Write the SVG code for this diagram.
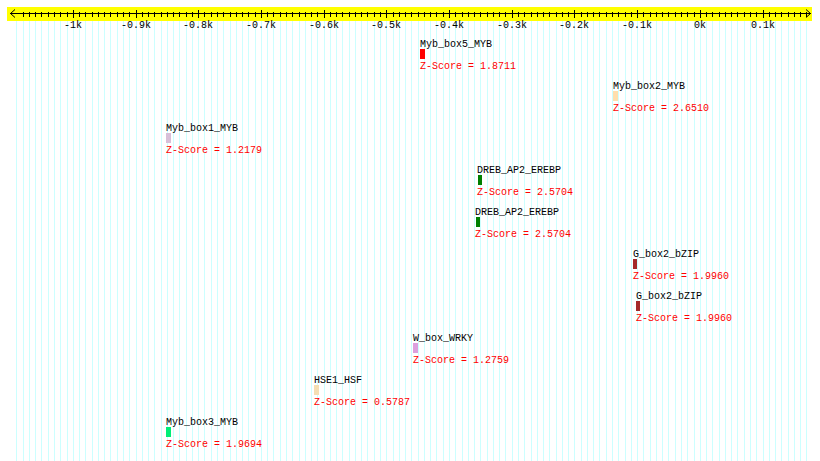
<svg xmlns="http://www.w3.org/2000/svg" width="820" height="461" viewBox="0 0 820 461">
<style>
.t{font-family:"Liberation Mono","DejaVu Sans Mono",monospace;font-size:10px;fill:#000}
.z{font-family:"Liberation Mono","DejaVu Sans Mono",monospace;font-size:10px;fill:#ff0000}
.ax{font-family:"Liberation Mono","DejaVu Sans Mono",monospace;font-size:10px;fill:#000;text-anchor:middle}
.grid{stroke:#ccffff;stroke-width:1;fill:none}
.k{stroke:#000;stroke-width:1;fill:none}
</style>
<rect x="0" y="0" width="820" height="461" fill="#ffffff"/>
<g id="grid">
<path class="grid" shape-rendering="crispEdges" d="M16.5 21V461M23.5 21V461M29.5 21V461M35.5 21V461M41.5 21V461M48.5 21V461M54.5 21V461M60.5 21V461M67.5 21V461M73.5 21V461M79.5 21V461M85.5 21V461M92.5 21V461M98.5 21V461M104.5 21V461M110.5 21V461M117.5 21V461M123.5 21V461M129.5 21V461M136.5 21V461M142.5 21V461M148.5 21V461M154.5 21V461M161.5 21V461M167.5 21V461M173.5 21V461M179.5 21V461M186.5 21V461M192.5 21V461M198.5 21V461M204.5 21V461M211.5 21V461M217.5 21V461M223.5 21V461M230.5 21V461M236.5 21V461M242.5 21V461M248.5 21V461M255.5 21V461M261.5 21V461M267.5 21V461M273.5 21V461M280.5 21V461M286.5 21V461M292.5 21V461M299.5 21V461M305.5 21V461M311.5 21V461M317.5 21V461M324.5 21V461M330.5 21V461M336.5 21V461M342.5 21V461M349.5 21V461M355.5 21V461M361.5 21V461M367.5 21V461M374.5 21V461M380.5 21V461M386.5 21V461M393.5 21V461M399.5 21V461M405.5 21V461M411.5 21V461M418.5 21V461M424.5 21V461M430.5 21V461M436.5 21V461M443.5 21V461M449.5 21V461M455.5 21V461M462.5 21V461M468.5 21V461M474.5 21V461M480.5 21V461M487.5 21V461M493.5 21V461M499.5 21V461M505.5 21V461M512.5 21V461M518.5 21V461M524.5 21V461M531.5 21V461M537.5 21V461M543.5 21V461M549.5 21V461M556.5 21V461M562.5 21V461M568.5 21V461M574.5 21V461M581.5 21V461M587.5 21V461M593.5 21V461M599.5 21V461M606.5 21V461M612.5 21V461M618.5 21V461M625.5 21V461M631.5 21V461M637.5 21V461M643.5 21V461M650.5 21V461M656.5 21V461M662.5 21V461M668.5 21V461M675.5 21V461M681.5 21V461M687.5 21V461M694.5 21V461M700.5 21V461M706.5 21V461M712.5 21V461M719.5 21V461M725.5 21V461M731.5 21V461M737.5 21V461M744.5 21V461M750.5 21V461M756.5 21V461M763.5 21V461M769.5 21V461M775.5 21V461M781.5 21V461M788.5 21V461M794.5 21V461M800.5 21V461M806.5 21V461"/>
</g>
<g id="axis">
<rect x="7" y="7" width="805" height="14" fill="#ffff00"/>
<path class="k" shape-rendering="crispEdges" d="M10 13.5H811"/>
<path class="k" d="M15 9.5L10.5 13.5L15 17.5M806 9.5L810.5 13.5L806 17.5"/>
<path class="k" shape-rendering="crispEdges" d="M23.5 11.5V16.5M29.5 11.5V16.5M35.5 11.5V16.5M41.5 11.5V16.5M48.5 11.5V16.5M54.5 11.5V16.5M60.5 11.5V16.5M67.5 11.5V16.5M79.5 11.5V16.5M85.5 11.5V16.5M92.5 11.5V16.5M98.5 11.5V16.5M104.5 11.5V16.5M110.5 11.5V16.5M117.5 11.5V16.5M123.5 11.5V16.5M129.5 11.5V16.5M142.5 11.5V16.5M148.5 11.5V16.5M154.5 11.5V16.5M161.5 11.5V16.5M167.5 11.5V16.5M173.5 11.5V16.5M179.5 11.5V16.5M186.5 11.5V16.5M192.5 11.5V16.5M204.5 11.5V16.5M211.5 11.5V16.5M217.5 11.5V16.5M223.5 11.5V16.5M230.5 11.5V16.5M236.5 11.5V16.5M242.5 11.5V16.5M248.5 11.5V16.5M255.5 11.5V16.5M267.5 11.5V16.5M273.5 11.5V16.5M280.5 11.5V16.5M286.5 11.5V16.5M292.5 11.5V16.5M299.5 11.5V16.5M305.5 11.5V16.5M311.5 11.5V16.5M317.5 11.5V16.5M330.5 11.5V16.5M336.5 11.5V16.5M342.5 11.5V16.5M349.5 11.5V16.5M355.5 11.5V16.5M361.5 11.5V16.5M367.5 11.5V16.5M374.5 11.5V16.5M380.5 11.5V16.5M393.5 11.5V16.5M399.5 11.5V16.5M405.5 11.5V16.5M411.5 11.5V16.5M418.5 11.5V16.5M424.5 11.5V16.5M430.5 11.5V16.5M436.5 11.5V16.5M443.5 11.5V16.5M455.5 11.5V16.5M462.5 11.5V16.5M468.5 11.5V16.5M474.5 11.5V16.5M480.5 11.5V16.5M487.5 11.5V16.5M493.5 11.5V16.5M499.5 11.5V16.5M505.5 11.5V16.5M518.5 11.5V16.5M524.5 11.5V16.5M531.5 11.5V16.5M537.5 11.5V16.5M543.5 11.5V16.5M549.5 11.5V16.5M556.5 11.5V16.5M562.5 11.5V16.5M568.5 11.5V16.5M581.5 11.5V16.5M587.5 11.5V16.5M593.5 11.5V16.5M599.5 11.5V16.5M606.5 11.5V16.5M612.5 11.5V16.5M618.5 11.5V16.5M625.5 11.5V16.5M631.5 11.5V16.5M643.5 11.5V16.5M650.5 11.5V16.5M656.5 11.5V16.5M662.5 11.5V16.5M668.5 11.5V16.5M675.5 11.5V16.5M681.5 11.5V16.5M687.5 11.5V16.5M694.5 11.5V16.5M706.5 11.5V16.5M712.5 11.5V16.5M719.5 11.5V16.5M725.5 11.5V16.5M731.5 11.5V16.5M737.5 11.5V16.5M744.5 11.5V16.5M750.5 11.5V16.5M756.5 11.5V16.5M769.5 11.5V16.5M775.5 11.5V16.5M781.5 11.5V16.5M788.5 11.5V16.5M794.5 11.5V16.5M800.5 11.5V16.5M806.5 11.5V16.5"/>
<path class="k" shape-rendering="crispEdges" d="M73.5 10V18M136.5 10V18M198.5 10V18M261.5 10V18M324.5 10V18M386.5 10V18M449.5 10V18M512.5 10V18M574.5 10V18M637.5 10V18M700.5 10V18M763.5 10V18"/>
<text class="ax" x="73" y="28">-1k</text>
<text class="ax" x="136" y="28">-0.9k</text>
<text class="ax" x="198" y="28">-0.8k</text>
<text class="ax" x="261" y="28">-0.7k</text>
<text class="ax" x="324" y="28">-0.6k</text>
<text class="ax" x="386" y="28">-0.5k</text>
<text class="ax" x="449" y="28">-0.4k</text>
<text class="ax" x="512" y="28">-0.3k</text>
<text class="ax" x="574" y="28">-0.2k</text>
<text class="ax" x="637" y="28">-0.1k</text>
<text class="ax" x="700" y="28">0k</text>
<text class="ax" x="763" y="28">0.1k</text>
</g>
<g id="connectors"/>
<g id="myb_box5">
<text class="t" x="420" y="47">Myb_box5_MYB</text>
<rect x="420" y="49" width="5" height="10" fill="#ff0000"/>
<text class="z" x="420" y="69">Z-Score = 1.8711</text>
</g>
<g id="myb_box2">
<text class="t" x="613" y="89">Myb_box2_MYB</text>
<rect x="613" y="91" width="5" height="10" fill="#ffdead"/>
<text class="z" x="613" y="111">Z-Score = 2.6510</text>
</g>
<g id="myb_box1">
<text class="t" x="166" y="131">Myb_box1_MYB</text>
<rect x="166" y="133" width="5" height="10" fill="#d8bfd8"/>
<text class="z" x="166" y="153">Z-Score = 1.2179</text>
</g>
<g id="dreb_1">
<text class="t" x="477" y="173">DREB_AP2_EREBP</text>
<rect x="478" y="175" width="4" height="10" fill="#008000"/>
<text class="z" x="477" y="195">Z-Score = 2.5704</text>
</g>
<g id="dreb_2">
<text class="t" x="475" y="215">DREB_AP2_EREBP</text>
<rect x="476" y="217" width="4" height="10" fill="#008000"/>
<text class="z" x="475" y="237">Z-Score = 2.5704</text>
</g>
<g id="g_box2_1">
<text class="t" x="633" y="257">G_box2_bZIP</text>
<rect x="633" y="259" width="4" height="10" fill="#a52a2a"/>
<text class="z" x="633" y="279">Z-Score = 1.9960</text>
</g>
<g id="g_box2_2">
<text class="t" x="636" y="299">G_box2_bZIP</text>
<rect x="636" y="301" width="4" height="10" fill="#a52a2a"/>
<text class="z" x="636" y="321">Z-Score = 1.9960</text>
</g>
<g id="w_box">
<text class="t" x="413" y="341">W_box_WRKY</text>
<rect x="413" y="343" width="5" height="10" fill="#dda0dd"/>
<text class="z" x="413" y="363">Z-Score = 1.2759</text>
</g>
<g id="hse1">
<text class="t" x="314" y="383">HSE1_HSF</text>
<rect x="314" y="385" width="5" height="10" fill="#f5deb3"/>
<text class="z" x="314" y="405">Z-Score = 0.5787</text>
</g>
<g id="myb_box3">
<text class="t" x="166" y="425">Myb_box3_MYB</text>
<rect x="166" y="427" width="5" height="10" fill="#00ee76"/>
<text class="z" x="166" y="447">Z-Score = 1.9694</text>
</g>
</svg>
